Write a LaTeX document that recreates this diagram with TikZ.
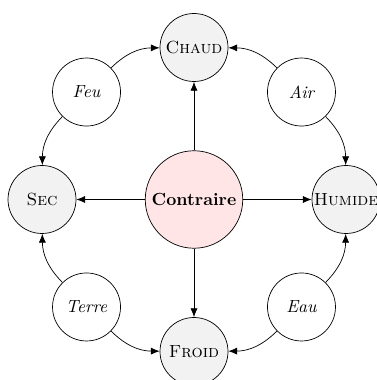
\documentclass[tikz,border=0pt]{standalone}
\usetikzlibrary{arrows.meta}
\begin{document}
\begin{tikzpicture}[
  qual/.style={circle,draw,fill=gray!10,minimum size=1.36cm,inner sep=0pt,font=\scshape},
  elem/.style={circle,draw,fill=white,minimum size=1.36cm,inner sep=0pt,font=\itshape},
  center/.style={circle,draw,fill=red!10,minimum size=1.95cm,inner sep=0pt,font=\bfseries},
  arr/.style={-{Latex[length=5pt,width=4pt]}}
]
\useasboundingbox (-3.88,-3.61) rectangle (3.64,3.99);
\def\R{3.04}
\node[center] (c) at (0,0) {Contraire};
\node[qual] (chaud) at (90:\R) {Chaud};
\node[qual] (sec) at (180:\R) {Sec};
\node[qual] (humide) at (0:\R) {Humide};
\node[qual] (froid) at (270:\R) {Froid};
\node[elem] (feu) at (135:\R) {Feu};
\node[elem] (air) at (45:\R) {Air};
\node[elem] (terre) at (225:\R) {Terre};
\node[elem] (eau) at (315:\R) {Eau};
\draw[arr] (c) -- (chaud);
\draw[arr] (c) -- (sec);
\draw[arr] (c) -- (humide);
\draw[arr] (c) -- (froid);
\draw[arr] (feu) to[bend left=22] (chaud);
\draw[arr] (feu) to[bend right=22] (sec);
\draw[arr] (air) to[bend right=22] (chaud);
\draw[arr] (air) to[bend left=22] (humide);
\draw[arr] (terre) to[bend left=22] (sec);
\draw[arr] (terre) to[bend right=22] (froid);
\draw[arr] (eau) to[bend right=22] (humide);
\draw[arr] (eau) to[bend left=22] (froid);
\end{tikzpicture}
\end{document}
